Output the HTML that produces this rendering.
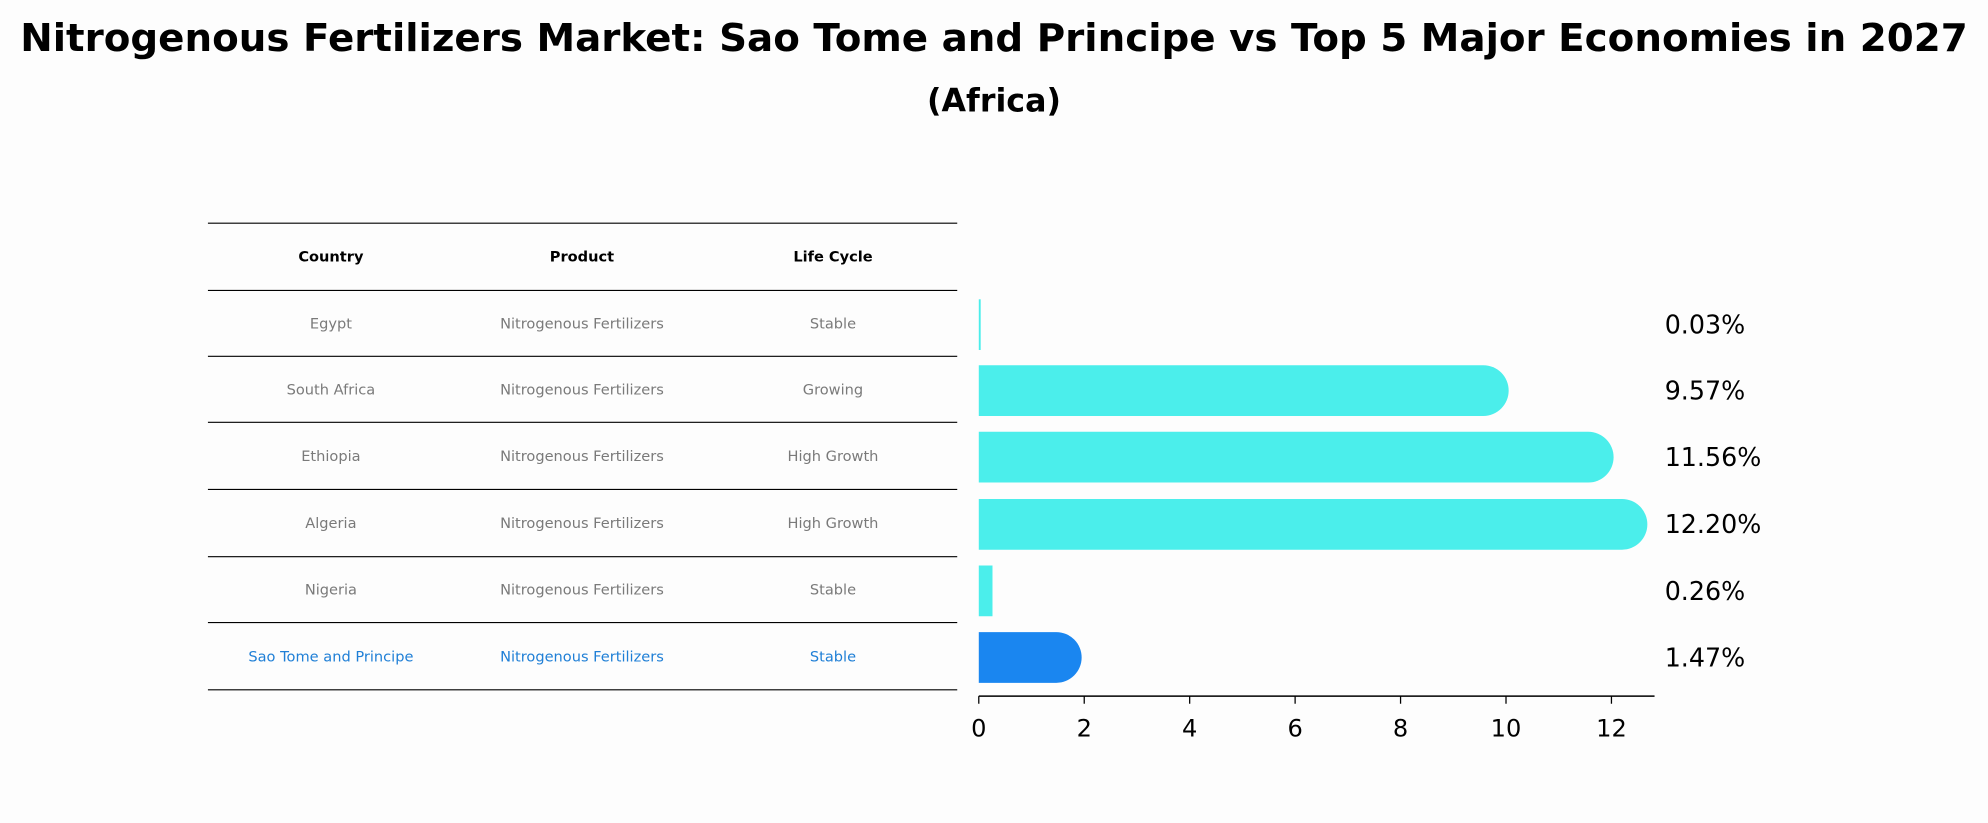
<!DOCTYPE html>
<html><head><meta charset="utf-8"><style>
html,body{margin:0;padding:0;background:#fdfdfd;}
svg{display:block;font-family:"DejaVu Sans","Liberation Sans",sans-serif;}
</style></head><body>
<svg id="chart" width="1988" height="823" viewBox="0 0 1568 649" xmlns="http://www.w3.org/2000/svg">
<rect x="0" y="0" width="1568" height="649" fill="#fdfdfd"/>
<text x="784" y="40" text-anchor="middle" font-size="30.5" font-weight="bold" textLength="1536" lengthAdjust="spacingAndGlyphs">Nitrogenous Fertilizers Market: Sao Tome and Principe vs Top 5 Major Economies in 2027</text>
<text x="784" y="88" text-anchor="middle" font-size="25" font-weight="bold">(Africa)</text>
<g id="table"></g>
<g id="bars"></g>
</svg>
<script>
const countries = ["Egypt","South Africa","Ethiopia","Algeria","Nigeria","Sao Tome and Principe"];
const products = ["Nitrogenous Fertilizers","Nitrogenous Fertilizers","Nitrogenous Fertilizers","Nitrogenous Fertilizers","Nitrogenous Fertilizers","Nitrogenous Fertilizers"];
const lifeCycles = ["Stable","Growing","High Growth","High Growth","Stable","Stable"];
const values = [0.03, 9.57, 11.56, 12.20, 0.26, 1.47];
const valueLabels = ["0.03%","9.57%","11.56%","12.20%","0.26%","1.47%"];
const ticks = [0,2,4,6,8,10,12];

const NS = "http://www.w3.org/2000/svg";
function mk(tag, attrs, parent, text){
  const e = document.createElementNS(NS, tag);
  for (const k in attrs) e.setAttribute(k, attrs[k]);
  if (text !== undefined) e.textContent = text;
  parent.appendChild(e); return e;
}
const table = document.getElementById('table');
const bars = document.getElementById('bars');
const lineYs = [176,229,281,333,386,439,491,544];
const colX = [261,459,657];
lineYs.forEach((y,i)=>{
  const l = mk('line',{x1:164,x2:755,y1:y,y2:y,stroke:'#000','stroke-width':0.9},table);
  
  
});
["Country","Product","Life Cycle"].forEach((h,i)=>{
  const t = mk('text',{x:colX[i],y:206,'text-anchor':'middle','font-size':11.5,'font-weight':'bold'},table,h);
  
  
});
const x0 = 772, pxPer = (1271-772)/12;
const xs = v => x0 + v*pxPer;
const rowY = i => (lineYs[i+1]+lineYs[i+2])/2;
countries.forEach((c,i)=>{
  const last = i===countries.length-1;
  const col = last ? '#1f7fd6' : '#7a7a7a';
  const cy = rowY(i);
  [c, products[i], lifeCycles[i]].forEach((s,j)=>{
    const t = mk('text',{x:colX[j],y:cy+4,'text-anchor':'middle','font-size':11.5,fill:col},table,s);
    
    
  });
  const h = 40, top = cy - h/2 + 1;
  const fill = last ? '#1a86f0' : '#4beeeb';
  const w = xs(values[i]) - x0;
  let d;
  if (values[i] > 1) {
    const r = h/2;
    d = `M${x0},${top} H${x0+w} A${r},${r} 0 0 1 ${x0+w},${top+h} H${x0} Z`;
  } else {
    d = `M${x0},${top} H${x0+Math.max(w,1.5)} V${top+h} H${x0} Z`;
  }
  const b = mk('path',{d:d,fill:fill},bars);
  
  
  const lbl = mk('text',{x:1313,y:cy+8,'font-size':20},bars,valueLabels[i]);
  
  
});
const ax = mk('line',{x1:x0,x2:1305,y1:549,y2:549,stroke:'#000','stroke-width':1.2},bars);


ticks.forEach(t=>{
  const tk = mk('line',{x1:xs(t),x2:xs(t),y1:549,y2:555,stroke:'#000','stroke-width':1},bars);
  
  
  const tl = mk('text',{x:xs(t),y:581,'text-anchor':'middle','font-size':19},bars,String(t));
  
  
});
</script>
</body></html>
